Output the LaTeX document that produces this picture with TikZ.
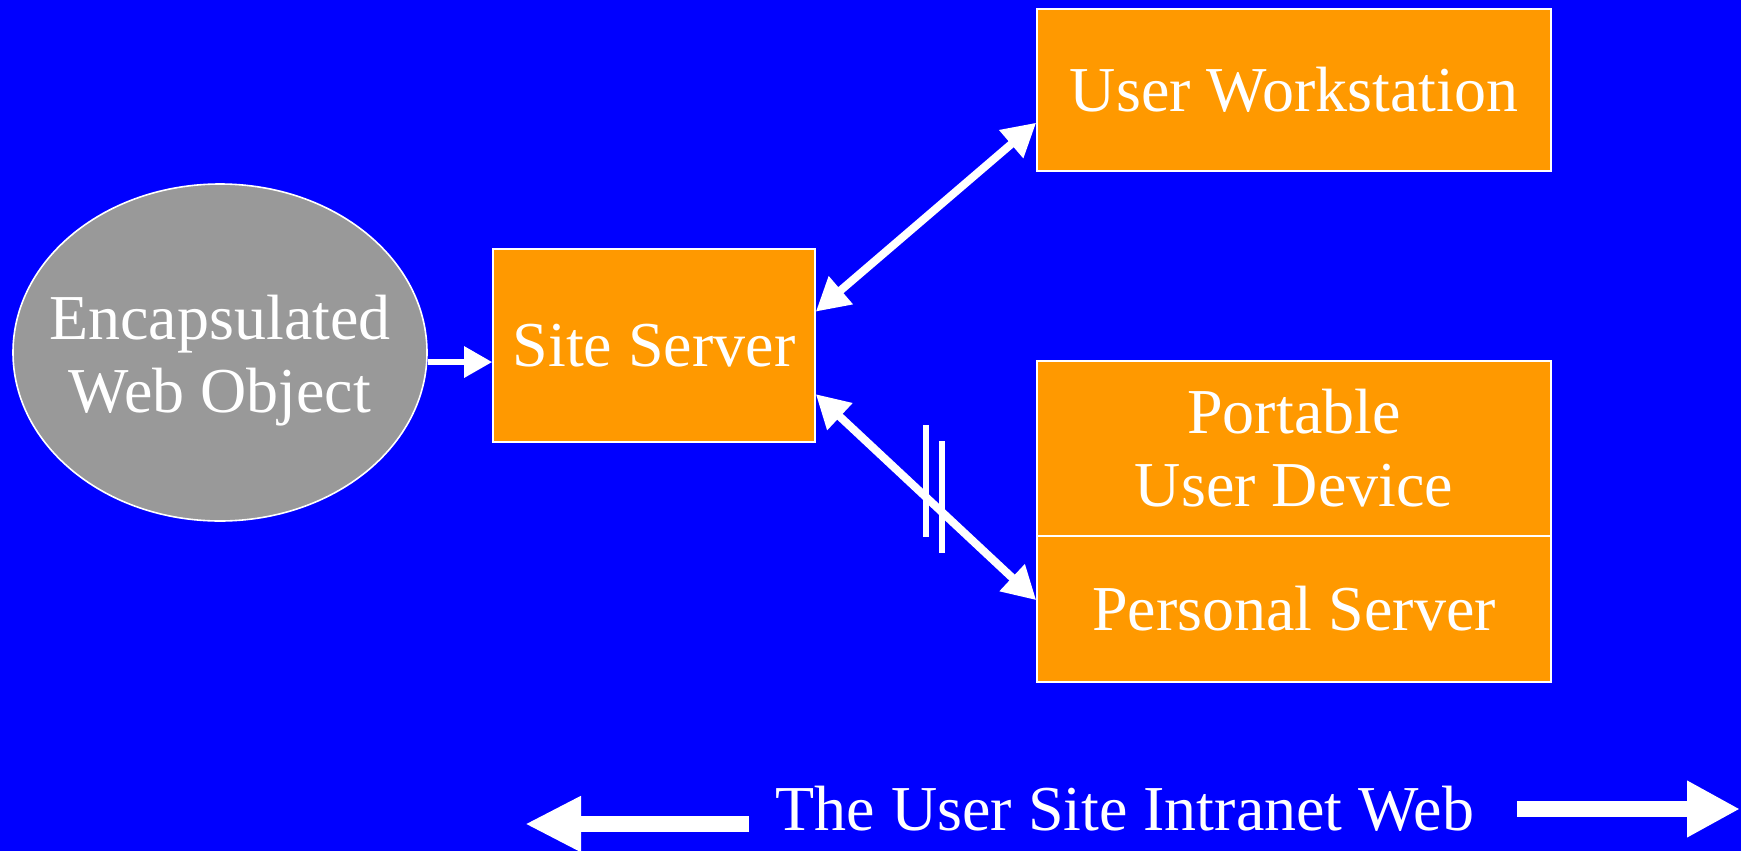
\documentclass[tikz,border=0pt]{standalone}
\usepackage{fontspec}
\setmainfont{Liberation Serif}
\usetikzlibrary{calc,arrows.meta,shapes.geometric}
\definecolor{bgblue}{RGB}{0,0,255}
\definecolor{boxorange}{RGB}{255,153,0}
\definecolor{objgrey}{RGB}{153,153,153}
\tikzset{
	box/.style={draw=white, line width=0.8pt, fill=boxorange, inner sep=0pt, text=white, align=center, font=\fontsize{32}{36.5}\selectfont},
	link/.style={draw=white, line width=4pt, {Triangle[length=16.5pt,width=17.5pt]}-{Triangle[length=16.5pt,width=17.5pt]}},
}

\begin{document}
\begin{tikzpicture}[x=0.5pt, y=-0.5pt]
			%%%%% START %%%%%
			
			\fill[bgblue] (0, 0) rectangle (1741, 851);
			\useasboundingbox (0, 0) rectangle (1741, 851);
			
			\node[box, ellipse, fill=objgrey, minimum width=207pt, minimum height=168.5pt] (ewo) at (220, 352.5) {};
			\node[box, draw=none, fill=none] (ewotext) at ([yshift=-4pt]ewo.center) {Encapsulated\\Web Object};
			\node[box, minimum width=161pt, minimum height=96.5pt] (site) at (654, 345.5) {\raisebox{-3.5pt}{Site Server}};
			\node[box, minimum width=257pt, minimum height=81pt] (uws) at (1294, 90) {\raisebox{-1pt}{User Workstation}};
			\node[box, minimum width=257pt, minimum height=87.5pt] (pud) at (1294, 448.5) {Portable\\User Device};
			\node[box, minimum width=257pt, minimum height=73pt] (ps) at (1294, 609) {Personal Server};
			
			\coordinate (sin) at ($(site.north west)!0.585!(site.south west)$);
			\draw[white, line width=3pt, -{Triangle[length=14pt,width=15pt]}] (ewo.east |- sin) -- (sin);
			
			\draw[link] ($(site.north east)!0.326!(site.south east)$) -- ($(uws.north west)!0.7!(uws.south west)$);
			\draw[link] ($(site.north east)!0.75!(site.south east)$) -- ($(ps.north west)!0.44!(ps.south west)$);
			
			% break marks
			\draw[white, line width=3pt] (926, 425) -- (926, 537);
			\draw[white, line width=3pt] (942, 441) -- (942, 553);
			
			\node[text=white, font=\fontsize{32}{37}\selectfont, inner sep=0pt] (intra) at (1125, 809) {The User Site Intranet Web};
			\coordinate (lend) at (525, 824);
			\coordinate (rend) at (1740, 809);
			\draw[white, line width=8pt, -{Triangle[length=28pt,width=26pt]}] (749, 824) -- (lend);
			\draw[white, line width=8pt, -{Triangle[length=26.5pt,width=26.5pt]}] (1517, 809) -- (rend);
			
			%%%%% END %%%%%
		\end{tikzpicture}
\end{document}
